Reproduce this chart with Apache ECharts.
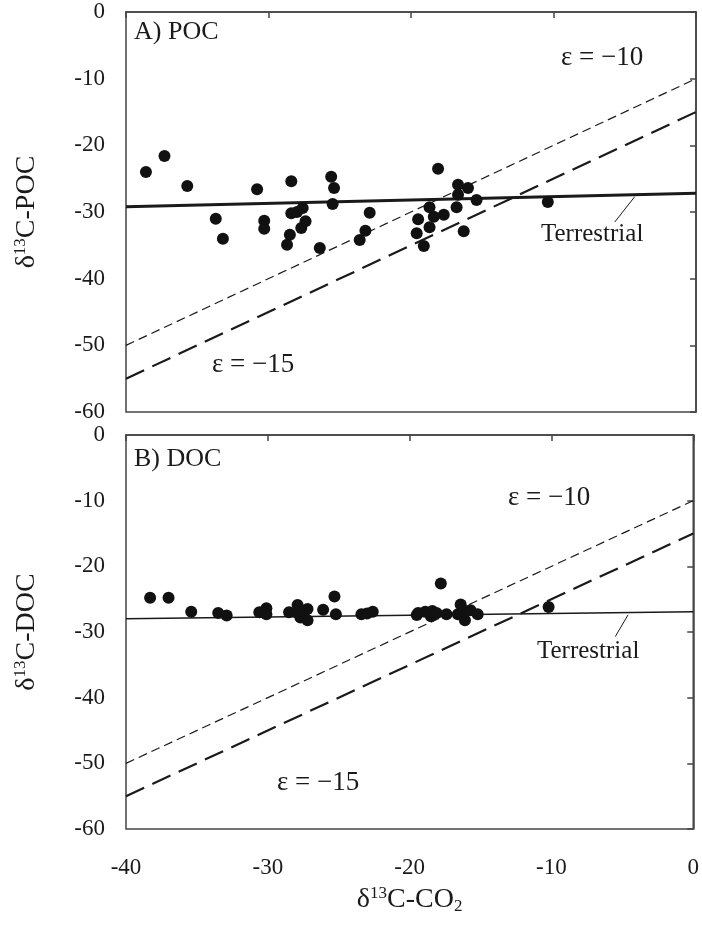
<!DOCTYPE html>
<html>
<head>
<meta charset="utf-8">
<script src="https://cdn.jsdelivr.net/npm/echarts@6/dist/echarts.min.js"></script>
<style>
  html, body { margin: 0; padding: 0; background: #fff; }
  #main { width: 702px; height: 929px; }
</style>
</head>
<body>
<div id="main"></div>
<script>
// axis ticks
const xTicks = [-40, -30, -20, -10, 0];
const yTicks = [-60, -50, -40, -30, -20, -10, 0];

// A) POC  [d13C-CO2, d13C-POC]
const pocPoints = [
    [-38.6, -24.0], [-37.3, -21.6], [-35.7, -26.1], [-30.8, -26.6], [-28.4, -25.4],
    [-25.6, -24.7], [-25.4, -26.4], [-25.5, -28.8], [-33.7, -31.0], [-33.2, -34.0],
    [-30.3, -31.3], [-30.3, -32.5], [-28.4, -30.2], [-28.0, -30.0], [-27.6, -29.4],
    [-27.4, -31.4], [-27.7, -32.4], [-28.5, -33.4], [-28.7, -34.9], [-26.4, -35.4],
    [-22.9, -30.1], [-23.2, -32.8], [-23.6, -34.2], [-19.5, -31.1], [-19.6, -33.2],
    [-18.1, -23.5], [-16.7, -25.9], [-16.0, -26.4], [-16.7, -27.4], [-15.4, -28.2],
    [-16.8, -29.3], [-18.7, -29.3], [-18.4, -30.7], [-17.7, -30.4], [-18.7, -32.3],
    [-19.1, -35.1], [-16.3, -32.9], [-10.4, -28.5]
];
const pocTerrestrial = [[-40, -29.2], [0, -27.2]];
const pocLeader = [[-4.3, -27.7], [-5.7, -31.5]];

// B) DOC  [d13C-CO2, d13C-DOC]
const docPoints = [
    [-38.3, -24.8], [-37.0, -24.8], [-35.4, -26.9], [-33.5, -27.1], [-32.9, -27.5],
    [-30.6, -27.0], [-30.1, -26.4], [-30.1, -27.3], [-28.5, -27.0], [-27.9, -25.9],
    [-28.0, -27.0], [-27.7, -27.8], [-27.2, -26.5], [-27.2, -28.2], [-27.4, -26.8],
    [-26.1, -26.6], [-25.3, -24.6], [-25.2, -27.3], [-23.4, -27.3], [-23.0, -27.2],
    [-22.6, -26.9], [-19.5, -27.4], [-19.4, -27.1], [-18.9, -26.9], [-18.4, -26.8],
    [-18.5, -27.6], [-18.1, -27.1], [-17.8, -22.6], [-17.4, -27.3], [-16.4, -25.8],
    [-16.6, -27.3], [-16.1, -26.8], [-16.1, -28.2], [-15.7, -26.7], [-15.2, -27.3],
    [-10.2, -26.2]
];
const docTerrestrial = [[-40, -28.0], [0, -26.9]];
const docLeader = [[-4.6, -27.4], [-5.5, -30.7]];

// fractionation lines, epsilon = -10 and -15
const eps10 = [[-40, -50], [0, -10]];
const eps15 = [[-40, -55], [0, -15]];

const serif = '"Liberation Serif", "DejaVu Serif", serif';
const ink = '#1a1a1a';

function xAxisFor(gridIndex, withLabels) {
    return {
        type: 'value', gridIndex: gridIndex,
        min: -40, max: 0, interval: 10,
        splitLine: { show: false },
        axisLine: { lineStyle: { color: '#444', width: 1.5 } },
        axisTick: { inside: false, length: 6, lineStyle: { color: '#444', width: 1.5 } },
        axisLabel: {
            show: withLabels, margin: 27, color: ink, fontSize: 23, fontFamily: serif
        },
        name: withLabels ? '{a|δ}{s|13}{a|C-CO}{b|2}' : '',
        nameLocation: 'middle',
        nameGap: 56,
        nameTextStyle: {
            rich: {
                a: { fontSize: 28, fontFamily: serif, color: ink, lineHeight: 30 },
                s: { fontSize: 17, fontFamily: serif, color: ink, lineHeight: 16, verticalAlign: 'top' },
                b: { fontSize: 17, fontFamily: serif, color: ink, lineHeight: 16, verticalAlign: 'bottom' }
            }
        }
    };
}

function yAxisFor(gridIndex, label) {
    return {
        type: 'value', gridIndex: gridIndex,
        min: -60, max: 0, interval: 10,
        splitLine: { show: false },
        axisLine: { lineStyle: { color: '#444', width: 1.5 } },
        axisTick: { length: 6, lineStyle: { color: '#444', width: 1.5 } },
        axisLabel: { margin: 21, color: ink, fontSize: 23, fontFamily: serif },
        name: '{a|δ}{s|13}{a|C-' + label + '}',
        nameLocation: 'middle',
        nameRotate: 90,
        nameGap: 84,
        nameTextStyle: {
            rich: {
                a: { fontSize: 28, fontFamily: serif, color: ink, lineHeight: 30 },
                s: { fontSize: 17, fontFamily: serif, color: ink, lineHeight: 16, verticalAlign: 'top' }
            }
        }
    };
}

function panelSeries(idx, points, terrestrial, leader, terrWidth) {
    return [
        {
            type: 'line', xAxisIndex: idx, yAxisIndex: idx, data: eps10,
            symbol: 'none', silent: true,
            lineStyle: { color: ink, width: 1.2, type: [9, 5] }
        },
        {
            type: 'line', xAxisIndex: idx, yAxisIndex: idx, data: eps15,
            symbol: 'none', silent: true,
            lineStyle: { color: ink, width: 2.2, type: [20, 9] }
        },
        {
            type: 'line', xAxisIndex: idx, yAxisIndex: idx, data: terrestrial,
            symbol: 'none', silent: true,
            lineStyle: { color: ink, width: terrWidth }
        },
        {
            type: 'line', xAxisIndex: idx, yAxisIndex: idx, data: leader,
            symbol: 'none', silent: true,
            lineStyle: { color: ink, width: 1 }
        },
        {
            type: 'scatter', xAxisIndex: idx, yAxisIndex: idx, data: points,
            symbol: 'circle', symbolSize: 12, z: 5,
            itemStyle: { color: '#111', opacity: 1 }
        }
    ];
}

function note(text, x, y, size) {
    return {
        type: 'text', left: x, top: y - size * 0.6, z: 10,
        style: { text: text, fontSize: size, fontFamily: serif, fill: ink }
    };
}

const option = {
    animation: false,
    backgroundColor: '#fff',
    grid: [
        { left: 126, top: 12, width: 570, height: 400, show: true, borderColor: '#444', borderWidth: 1.5 },
        { left: 126, top: 435, width: 570, height: 394, show: true, borderColor: '#444', borderWidth: 1.5 }
    ],
    xAxis: [xAxisFor(0, false), xAxisFor(1, true)],
    yAxis: [yAxisFor(0, 'POC'), yAxisFor(1, 'DOC')],
    series: [].concat(
        panelSeries(0, pocPoints, pocTerrestrial, pocLeader, 3),
        panelSeries(1, docPoints, docTerrestrial, docLeader, 1.5)
    ),
    graphic: [
        note('A) POC', 134, 35, 26),
        note('ε = −10', 561, 61, 27),
        note('ε = −15', 212, 368, 27),
        note('Terrestrial', 541, 237, 25),
        note('B) DOC', 134, 462, 26),
        note('ε = −10', 508, 501, 27),
        note('ε = −15', 277, 786, 27),
        note('Terrestrial', 537, 654, 25)
    ]
};

let plot = echarts.init(document.querySelector('#main'));
plot.setOption(option);
</script>
</body>
</html>
